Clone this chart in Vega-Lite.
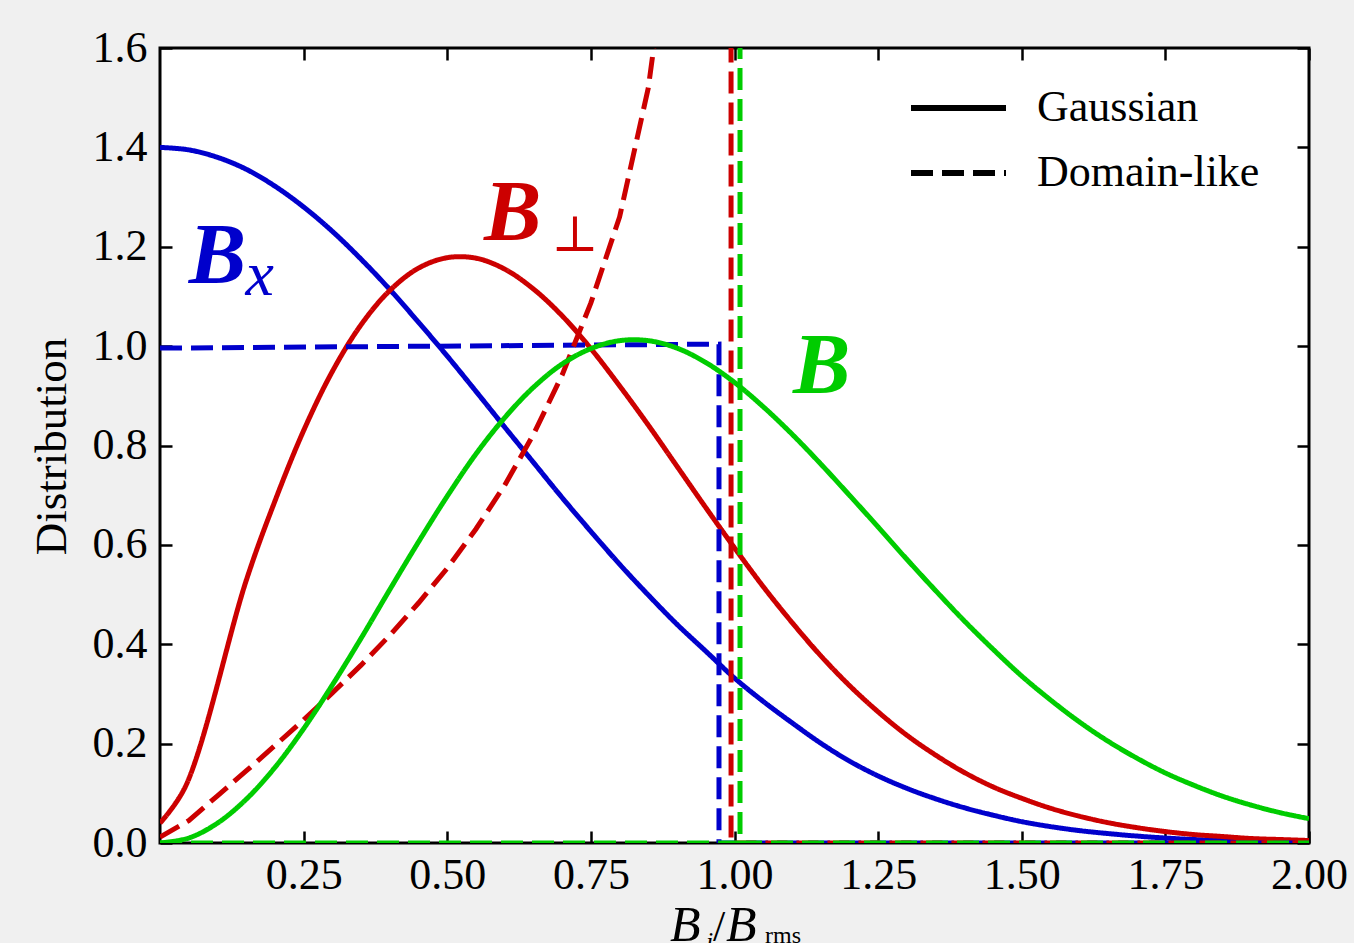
{
"$schema": "https://vega.github.io/schema/vega-lite/v6.json",
"autosize": {"type": "none"},
"padding": {"left": 160, "top": 48, "right": 45, "bottom": 100},
"width": 1149,
"height": 795,
"background": "#f0f0f0",
"config": {"view": {"stroke": "black", "strokeWidth": 3, "fill": "white"}, "font": "Liberation Serif"},
"datasets": {
"solidA": [
{"s":"bxg","c":"Bx","k":"Gaussian","i":0,"x":0,"y":1.400},{"s":"bxg","c":"Bx","k":"Gaussian","i":1,"x":0.05,"y":1.395},{"s":"bxg","c":"Bx","k":"Gaussian","i":2,"x":0.1,"y":1.380},{"s":"bxg","c":"Bx","k":"Gaussian","i":3,"x":0.15,"y":1.356},{"s":"bxg","c":"Bx","k":"Gaussian","i":4,"x":0.2,"y":1.322},{"s":"bxg","c":"Bx","k":"Gaussian","i":5,"x":0.25,"y":1.280},{"s":"bxg","c":"Bx","k":"Gaussian","i":6,"x":0.3,"y":1.231},{"s":"bxg","c":"Bx","k":"Gaussian","i":7,"x":0.35,"y":1.175},{"s":"bxg","c":"Bx","k":"Gaussian","i":8,"x":0.4,"y":1.114},{"s":"bxg","c":"Bx","k":"Gaussian","i":9,"x":0.45,"y":1.048},{"s":"bxg","c":"Bx","k":"Gaussian","i":10,"x":0.5,"y":0.980},{"s":"bxg","c":"Bx","k":"Gaussian","i":11,"x":0.55,"y":0.909},{"s":"bxg","c":"Bx","k":"Gaussian","i":12,"x":0.6,"y":0.837},{"s":"bxg","c":"Bx","k":"Gaussian","i":13,"x":0.65,"y":0.766},{"s":"bxg","c":"Bx","k":"Gaussian","i":14,"x":0.7,"y":0.695},{"s":"bxg","c":"Bx","k":"Gaussian","i":15,"x":0.75,"y":0.627},{"s":"bxg","c":"Bx","k":"Gaussian","i":16,"x":0.8,"y":0.561},{"s":"bxg","c":"Bx","k":"Gaussian","i":17,"x":0.85,"y":0.499},{"s":"bxg","c":"Bx","k":"Gaussian","i":18,"x":0.9,"y":0.440},{"s":"bxg","c":"Bx","k":"Gaussian","i":19,"x":0.95,"y":0.386},{"s":"bxg","c":"Bx","k":"Gaussian","i":20,"x":1.0,"y":0.332},{"s":"bxg","c":"Bx","k":"Gaussian","i":21,"x":1.05,"y":0.285},{"s":"bxg","c":"Bx","k":"Gaussian","i":22,"x":1.1,"y":0.242},{"s":"bxg","c":"Bx","k":"Gaussian","i":23,"x":1.15,"y":0.201},{"s":"bxg","c":"Bx","k":"Gaussian","i":24,"x":1.2,"y":0.165},{"s":"bxg","c":"Bx","k":"Gaussian","i":25,"x":1.25,"y":0.135},{"s":"bxg","c":"Bx","k":"Gaussian","i":26,"x":1.3,"y":0.110},{"s":"bxg","c":"Bx","k":"Gaussian","i":27,"x":1.35,"y":0.089},{"s":"bxg","c":"Bx","k":"Gaussian","i":28,"x":1.4,"y":0.071},{"s":"bxg","c":"Bx","k":"Gaussian","i":29,"x":1.45,"y":0.056},{"s":"bxg","c":"Bx","k":"Gaussian","i":30,"x":1.5,"y":0.043},{"s":"bxg","c":"Bx","k":"Gaussian","i":31,"x":1.55,"y":0.033},{"s":"bxg","c":"Bx","k":"Gaussian","i":32,"x":1.6,"y":0.025},{"s":"bxg","c":"Bx","k":"Gaussian","i":33,"x":1.65,"y":0.019},{"s":"bxg","c":"Bx","k":"Gaussian","i":34,"x":1.7,"y":0.014},{"s":"bxg","c":"Bx","k":"Gaussian","i":35,"x":1.75,"y":0.010},{"s":"bxg","c":"Bx","k":"Gaussian","i":36,"x":1.8,"y":0.007},{"s":"bxg","c":"Bx","k":"Gaussian","i":37,"x":1.85,"y":0.005},{"s":"bxg","c":"Bx","k":"Gaussian","i":38,"x":1.9,"y":0.003},{"s":"bxg","c":"Bx","k":"Gaussian","i":39,"x":1.95,"y":0.002},{"s":"bxg","c":"Bx","k":"Gaussian","i":40,"x":2.0,"y":0.001},
{"s":"bpg","c":"Bperp","k":"Gaussian","i":0,"x":0,"y":0.040},{"s":"bpg","c":"Bperp","k":"Gaussian","i":1,"x":0.044,"y":0.113},{"s":"bpg","c":"Bperp","k":"Gaussian","i":3,"x":0.15,"y":0.528},{"s":"bpg","c":"Bperp","k":"Gaussian","i":4,"x":0.2,"y":0.688},{"s":"bpg","c":"Bperp","k":"Gaussian","i":5,"x":0.25,"y":0.830},{"s":"bpg","c":"Bperp","k":"Gaussian","i":6,"x":0.3,"y":0.949},{"s":"bpg","c":"Bperp","k":"Gaussian","i":7,"x":0.35,"y":1.043},{"s":"bpg","c":"Bperp","k":"Gaussian","i":8,"x":0.4,"y":1.112},{"s":"bpg","c":"Bperp","k":"Gaussian","i":9,"x":0.45,"y":1.157},{"s":"bpg","c":"Bperp","k":"Gaussian","i":10,"x":0.5,"y":1.178},{"s":"bpg","c":"Bperp","k":"Gaussian","i":11,"x":0.55,"y":1.177},{"s":"bpg","c":"Bperp","k":"Gaussian","i":12,"x":0.6,"y":1.155},{"s":"bpg","c":"Bperp","k":"Gaussian","i":13,"x":0.65,"y":1.115},{"s":"bpg","c":"Bperp","k":"Gaussian","i":14,"x":0.7,"y":1.061},{"s":"bpg","c":"Bperp","k":"Gaussian","i":15,"x":0.75,"y":0.995},{"s":"bpg","c":"Bperp","k":"Gaussian","i":16,"x":0.8,"y":0.920},{"s":"bpg","c":"Bperp","k":"Gaussian","i":17,"x":0.85,"y":0.841},{"s":"bpg","c":"Bperp","k":"Gaussian","i":18,"x":0.9,"y":0.758},{"s":"bpg","c":"Bperp","k":"Gaussian","i":19,"x":0.95,"y":0.675},{"s":"bpg","c":"Bperp","k":"Gaussian","i":20,"x":1.0,"y":0.594},{"s":"bpg","c":"Bperp","k":"Gaussian","i":21,"x":1.05,"y":0.516},{"s":"bpg","c":"Bperp","k":"Gaussian","i":22,"x":1.1,"y":0.444},{"s":"bpg","c":"Bperp","k":"Gaussian","i":23,"x":1.15,"y":0.377},{"s":"bpg","c":"Bperp","k":"Gaussian","i":24,"x":1.2,"y":0.317},{"s":"bpg","c":"Bperp","k":"Gaussian","i":25,"x":1.25,"y":0.264},{"s":"bpg","c":"Bperp","k":"Gaussian","i":26,"x":1.3,"y":0.217},{"s":"bpg","c":"Bperp","k":"Gaussian","i":27,"x":1.35,"y":0.177},{"s":"bpg","c":"Bperp","k":"Gaussian","i":28,"x":1.4,"y":0.142},{"s":"bpg","c":"Bperp","k":"Gaussian","i":29,"x":1.45,"y":0.113},{"s":"bpg","c":"Bperp","k":"Gaussian","i":30,"x":1.5,"y":0.090},{"s":"bpg","c":"Bperp","k":"Gaussian","i":31,"x":1.55,"y":0.070},{"s":"bpg","c":"Bperp","k":"Gaussian","i":32,"x":1.6,"y":0.054},{"s":"bpg","c":"Bperp","k":"Gaussian","i":33,"x":1.65,"y":0.041},{"s":"bpg","c":"Bperp","k":"Gaussian","i":34,"x":1.7,"y":0.031},{"s":"bpg","c":"Bperp","k":"Gaussian","i":35,"x":1.75,"y":0.023},{"s":"bpg","c":"Bperp","k":"Gaussian","i":36,"x":1.8,"y":0.017},{"s":"bpg","c":"Bperp","k":"Gaussian","i":37,"x":1.85,"y":0.013},{"s":"bpg","c":"Bperp","k":"Gaussian","i":38,"x":1.9,"y":0.009},{"s":"bpg","c":"Bperp","k":"Gaussian","i":39,"x":1.95,"y":0.007},{"s":"bpg","c":"Bperp","k":"Gaussian","i":40,"x":2.0,"y":0.005}
],
"dashA": [
{"s":"bxd","c":"Bx","k":"Domain-like","i":0,"x":0,"y":0.996},{"s":"bxd","c":"Bx","k":"Domain-like","i":1,"x":0.973,"y":1.004},{"s":"bxd","c":"Bx","k":"Domain-like","i":2,"x":0.973,"y":0},{"s":"bxd","c":"Bx","k":"Domain-like","i":3,"x":2.0,"y":0},
{"s":"bpd","c":"Bperp","k":"Domain-like","i":0,"x":0,"y":0.012},{"s":"bpd","c":"Bperp","k":"Domain-like","i":1,"x":0.05,"y":0.045},{"s":"bpd","c":"Bperp","k":"Domain-like","i":2,"x":0.1,"y":0.095},{"s":"bpd","c":"Bperp","k":"Domain-like","i":3,"x":0.15,"y":0.145},{"s":"bpd","c":"Bperp","k":"Domain-like","i":4,"x":0.2,"y":0.196},{"s":"bpd","c":"Bperp","k":"Domain-like","i":5,"x":0.25,"y":0.248},{"s":"bpd","c":"Bperp","k":"Domain-like","i":6,"x":0.3,"y":0.302},{"s":"bpd","c":"Bperp","k":"Domain-like","i":7,"x":0.35,"y":0.358},{"s":"bpd","c":"Bperp","k":"Domain-like","i":8,"x":0.4,"y":0.418},{"s":"bpd","c":"Bperp","k":"Domain-like","i":9,"x":0.45,"y":0.483},{"s":"bpd","c":"Bperp","k":"Domain-like","i":10,"x":0.5,"y":0.553},{"s":"bpd","c":"Bperp","k":"Domain-like","i":11,"x":0.55,"y":0.632},{"s":"bpd","c":"Bperp","k":"Domain-like","i":12,"x":0.6,"y":0.720},{"s":"bpd","c":"Bperp","k":"Domain-like","i":13,"x":0.65,"y":0.822},{"s":"bpd","c":"Bperp","k":"Domain-like","i":14,"x":0.7,"y":0.942},{"s":"bpd","c":"Bperp","k":"Domain-like","i":15,"x":0.75,"y":1.087},{"s":"bpd","c":"Bperp","k":"Domain-like","i":16,"x":0.8,"y":1.26},{"s":"bpd","c":"Bperp","k":"Domain-like","i":17,"x":0.85,"y":1.52},{"s":"bpd","c":"Bperp","k":"Domain-like","i":18,"x":0.9,"y":1.95},{"s":"bpd","c":"Bperp","k":"Domain-like","i":19,"x":0.95,"y":2.9},{"s":"bpd","c":"Bperp","k":"Domain-like","i":20,"x":0.994,"y":8},{"s":"bpd","c":"Bperp","k":"Domain-like","i":21,"x":0.994,"y":0},{"s":"bpd","c":"Bperp","k":"Domain-like","i":22,"x":2.0,"y":0}
],
"solidB": [
{"s":"bg","c":"B","k":"Gaussian","i":0,"x":0,"y":0},{"s":"bg","c":"B","k":"Gaussian","i":1,"x":0.05,"y":0.010},{"s":"bg","c":"B","k":"Gaussian","i":2,"x":0.1,"y":0.040},{"s":"bg","c":"B","k":"Gaussian","i":3,"x":0.15,"y":0.088},{"s":"bg","c":"B","k":"Gaussian","i":4,"x":0.2,"y":0.152},{"s":"bg","c":"B","k":"Gaussian","i":5,"x":0.25,"y":0.230},{"s":"bg","c":"B","k":"Gaussian","i":6,"x":0.3,"y":0.318},{"s":"bg","c":"B","k":"Gaussian","i":7,"x":0.35,"y":0.412},{"s":"bg","c":"B","k":"Gaussian","i":8,"x":0.4,"y":0.510},{"s":"bg","c":"B","k":"Gaussian","i":9,"x":0.45,"y":0.606},{"s":"bg","c":"B","k":"Gaussian","i":10,"x":0.5,"y":0.698},{"s":"bg","c":"B","k":"Gaussian","i":11,"x":0.55,"y":0.783},{"s":"bg","c":"B","k":"Gaussian","i":12,"x":0.6,"y":0.856},{"s":"bg","c":"B","k":"Gaussian","i":13,"x":0.65,"y":0.917},{"s":"bg","c":"B","k":"Gaussian","i":14,"x":0.7,"y":0.964},{"s":"bg","c":"B","k":"Gaussian","i":15,"x":0.75,"y":0.995},{"s":"bg","c":"B","k":"Gaussian","i":16,"x":0.8,"y":1.011},{"s":"bg","c":"B","k":"Gaussian","i":17,"x":0.85,"y":1.011},{"s":"bg","c":"B","k":"Gaussian","i":18,"x":0.9,"y":0.996},{"s":"bg","c":"B","k":"Gaussian","i":19,"x":0.95,"y":0.967},{"s":"bg","c":"B","k":"Gaussian","i":20,"x":1.0,"y":0.927},{"s":"bg","c":"B","k":"Gaussian","i":21,"x":1.05,"y":0.878},{"s":"bg","c":"B","k":"Gaussian","i":22,"x":1.1,"y":0.823},{"s":"bg","c":"B","k":"Gaussian","i":23,"x":1.15,"y":0.763},{"s":"bg","c":"B","k":"Gaussian","i":24,"x":1.2,"y":0.700},{"s":"bg","c":"B","k":"Gaussian","i":25,"x":1.25,"y":0.636},{"s":"bg","c":"B","k":"Gaussian","i":26,"x":1.3,"y":0.571},{"s":"bg","c":"B","k":"Gaussian","i":27,"x":1.35,"y":0.508},{"s":"bg","c":"B","k":"Gaussian","i":28,"x":1.4,"y":0.447},{"s":"bg","c":"B","k":"Gaussian","i":29,"x":1.45,"y":0.390},{"s":"bg","c":"B","k":"Gaussian","i":30,"x":1.5,"y":0.336},{"s":"bg","c":"B","k":"Gaussian","i":31,"x":1.55,"y":0.288},{"s":"bg","c":"B","k":"Gaussian","i":32,"x":1.6,"y":0.244},{"s":"bg","c":"B","k":"Gaussian","i":33,"x":1.65,"y":0.205},{"s":"bg","c":"B","k":"Gaussian","i":34,"x":1.7,"y":0.171},{"s":"bg","c":"B","k":"Gaussian","i":35,"x":1.75,"y":0.141},{"s":"bg","c":"B","k":"Gaussian","i":36,"x":1.8,"y":0.116},{"s":"bg","c":"B","k":"Gaussian","i":37,"x":1.85,"y":0.094},{"s":"bg","c":"B","k":"Gaussian","i":38,"x":1.9,"y":0.076},{"s":"bg","c":"B","k":"Gaussian","i":39,"x":1.95,"y":0.061},{"s":"bg","c":"B","k":"Gaussian","i":40,"x":2.0,"y":0.049}
],
"dashB": [
{"s":"bda","c":"B","k":"Domain-like","i":0,"x":0,"y":0},{"s":"bda","c":"B","k":"Domain-like","i":1,"x":1.0096,"y":0},{"s":"bda","c":"B","k":"Domain-like","i":2,"x":1.0096,"y":1.7},
{"s":"bdb","c":"B","k":"Domain-like","i":0,"x":1.0096,"y":0},{"s":"bdb","c":"B","k":"Domain-like","i":1,"x":2.0,"y":0}
]
},
"resolve": {"axis": {"x": "independent", "y": "independent"}},
"layer": [
{
"data": {"name": "solidA"},
"mark": {"type": "line", "clip": true, "strokeWidth": 5, "interpolate": "catmull-rom"},
"encoding": {
"x": {"field": "x", "type": "quantitative", "scale": {"domain": [0, 2], "nice": false, "zero": false},
"axis": {"orient": "bottom", "values": [0.25, 0.5, 0.75, 1.0, 1.25, 1.5, 1.75, 2.0], "format": ".2f", "domain": false, "grid": false, "tickSize": -12, "tickWidth": 2.5, "tickColor": "black", "labelFont": "Liberation Serif", "labelFontSize": 44, "labelColor": "black", "labelPadding": 22, "labelFlush": false, "labelOverlap": false, "title": null}},
"y": {"field": "y", "type": "quantitative", "scale": {"domain": [0, 1.6], "nice": false, "zero": false},
"axis": {"orient": "left", "values": [0, 0.2, 0.4, 0.6, 0.8, 1.0, 1.2, 1.4, 1.6], "format": ".1f", "domain": false, "grid": false, "tickSize": -12, "tickWidth": 2.5, "tickColor": "black", "labelFont": "Liberation Serif", "labelFontSize": 44, "labelColor": "black", "labelPadding": 25, "labelFlush": false, "labelOverlap": false, "title": "Distribution", "titleFont": "Liberation Serif", "titleFontSize": 45, "titleFontWeight": "normal", "titleColor": "black", "titleAngle": -90, "titleX": -95, "titleY": 398, "titleAlign": "center", "titleBaseline": "alphabetic"}},
"color": {"field": "c", "type": "nominal", "scale": {"domain": ["Bx", "Bperp", "B"], "range": ["#0000cc", "#cc0000", "#00cc00"]}, "legend": null},
"strokeDash": {"field": "k", "type": "nominal", "scale": {"domain": ["Gaussian", "Domain-like"], "range": [[1, 0], [22, 9]]},
"legend": {"title": null, "orient": "none", "legendX": 748, "legendY": 35, "symbolType": "stroke", "symbolSize": 9025, "symbolStrokeWidth": 6, "symbolStrokeColor": "black", "labelFont": "Liberation Serif", "labelFontSize": 44, "labelColor": "black", "labelOffset": 28, "labelLimit": 0, "clipHeight": 50, "rowPadding": 15, "padding": 0}},
"detail": {"field": "s", "type": "nominal"},
"order": {"field": "i", "type": "quantitative"}
}
},
{
"data": {"name": "dashA"},
"mark": {"type": "line", "clip": true, "strokeWidth": 5},
"encoding": {
"x": {"field": "x", "type": "quantitative", "scale": {"domain": [0, 2], "nice": false, "zero": false}, "axis": null},
"y": {"field": "y", "type": "quantitative", "scale": {"domain": [0, 1.6], "nice": false, "zero": false}, "axis": null},
"color": {"field": "c", "type": "nominal", "legend": null},
"strokeDash": {"field": "k", "type": "nominal"},
"detail": {"field": "s", "type": "nominal"},
"order": {"field": "i", "type": "quantitative"}
}
},
{
"data": {"name": "solidB"},
"mark": {"type": "line", "clip": true, "strokeWidth": 5, "interpolate": "catmull-rom"},
"encoding": {
"x": {"field": "x", "type": "quantitative", "scale": {"domain": [0, 2], "nice": false, "zero": false}, "axis": null},
"y": {"field": "y", "type": "quantitative", "scale": {"domain": [0, 1.6], "nice": false, "zero": false}, "axis": null},
"color": {"field": "c", "type": "nominal", "legend": null},
"strokeDash": {"field": "k", "type": "nominal"},
"detail": {"field": "s", "type": "nominal"},
"order": {"field": "i", "type": "quantitative"}
}
},
{
"data": {"name": "dashB"},
"mark": {"type": "line", "clip": true, "strokeWidth": 5},
"encoding": {
"x": {"field": "x", "type": "quantitative", "scale": {"domain": [0, 2], "nice": false, "zero": false},
"axis": {"orient": "top", "values": [0.25, 0.5, 0.75, 1.0, 1.25, 1.5, 1.75, 2.0], "labels": false, "domain": false, "grid": false, "tickSize": -12, "tickWidth": 2.5, "tickColor": "black", "title": null}},
"y": {"field": "y", "type": "quantitative", "scale": {"domain": [0, 1.6], "nice": false, "zero": false},
"axis": {"orient": "right", "values": [0, 0.2, 0.4, 0.6, 0.8, 1.0, 1.2, 1.4, 1.6], "labels": false, "domain": false, "grid": false, "tickSize": -12, "tickWidth": 2.5, "tickColor": "black", "title": null}},
"color": {"field": "c", "type": "nominal", "legend": null},
"strokeDash": {"field": "k", "type": "nominal"},
"detail": {"field": "s", "type": "nominal"},
"order": {"field": "i", "type": "quantitative"}
}
},
{
"data": {"values": [{"t": "B"}]},
"mark": {"type": "text", "font": "Liberation Serif", "fontSize": 86, "fontStyle": "italic", "fontWeight": "bold", "align": "left", "baseline": "alphabetic", "color": "#0000cc"},
"encoding": {"x": {"datum": 0.050, "type": "quantitative", "axis": null}, "y": {"datum": 1.127, "type": "quantitative", "axis": null}, "text": {"field": "t"}}
},
{
"data": {"values": [{"t": "x"}]},
"mark": {"type": "text", "font": "Liberation Serif", "fontSize": 64, "fontStyle": "italic", "align": "left", "baseline": "alphabetic", "color": "#0000cc"},
"encoding": {"x": {"datum": 0.149, "type": "quantitative", "axis": null}, "y": {"datum": 1.103, "type": "quantitative", "axis": null}, "text": {"field": "t"}}
},
{
"data": {"values": [{"t": "B"}]},
"mark": {"type": "text", "font": "Liberation Serif", "fontSize": 86, "fontStyle": "italic", "fontWeight": "bold", "align": "left", "baseline": "alphabetic", "color": "#cc0000"},
"encoding": {"x": {"datum": 0.564, "type": "quantitative", "axis": null}, "y": {"datum": 1.2135, "type": "quantitative", "axis": null}, "text": {"field": "t"}}
},
{
"data": {"values": [{"t": "⊥"}]},
"mark": {"type": "text", "font": "DejaVu Serif", "fontSize": 50, "align": "left", "baseline": "alphabetic", "color": "#cc0000"},
"encoding": {"x": {"datum": 0.681, "type": "quantitative", "axis": null}, "y": {"datum": 1.1914, "type": "quantitative", "axis": null}, "text": {"field": "t"}}
},
{
"data": {"values": [{"t": "B"}]},
"mark": {"type": "text", "font": "Liberation Serif", "fontSize": 86, "fontStyle": "italic", "fontWeight": "bold", "align": "left", "baseline": "alphabetic", "color": "#00cc00"},
"encoding": {"x": {"datum": 1.102, "type": "quantitative", "axis": null}, "y": {"datum": 0.9056, "type": "quantitative", "axis": null}, "text": {"field": "t"}}
},
{
"data": {"values": [{"t": "B"}]},
"mark": {"type": "text", "font": "Liberation Serif", "fontSize": 50, "fontStyle": "italic", "align": "left", "baseline": "alphabetic", "color": "black"},
"encoding": {"x": {"datum": 0.8877, "type": "quantitative", "axis": null}, "y": {"datum": -0.197, "type": "quantitative", "axis": null}, "text": {"field": "t"}}
},
{
"data": {"values": [{"t": "i"}]},
"mark": {"type": "text", "font": "Liberation Serif", "fontSize": 26, "fontStyle": "italic", "align": "left", "baseline": "alphabetic", "color": "black"},
"encoding": {"x": {"datum": 0.9504, "type": "quantitative", "axis": null}, "y": {"datum": -0.215, "type": "quantitative", "axis": null}, "text": {"field": "t"}}
},
{
"data": {"values": [{"t": "/"}]},
"mark": {"type": "text", "font": "Liberation Serif", "fontSize": 44, "align": "left", "baseline": "alphabetic", "color": "black"},
"encoding": {"x": {"datum": 0.9626, "type": "quantitative", "axis": null}, "y": {"datum": -0.197, "type": "quantitative", "axis": null}, "text": {"field": "t"}}
},
{
"data": {"values": [{"t": "B"}]},
"mark": {"type": "text", "font": "Liberation Serif", "fontSize": 50, "fontStyle": "italic", "align": "left", "baseline": "alphabetic", "color": "black"},
"encoding": {"x": {"datum": 0.9852, "type": "quantitative", "axis": null}, "y": {"datum": -0.197, "type": "quantitative", "axis": null}, "text": {"field": "t"}}
},
{
"data": {"values": [{"t": "rms"}]},
"mark": {"type": "text", "font": "Liberation Serif", "fontSize": 24, "align": "left", "baseline": "alphabetic", "color": "black"},
"encoding": {"x": {"datum": 1.0531, "type": "quantitative", "axis": null}, "y": {"datum": -0.2012, "type": "quantitative", "axis": null}, "text": {"field": "t"}}
}
]
}
